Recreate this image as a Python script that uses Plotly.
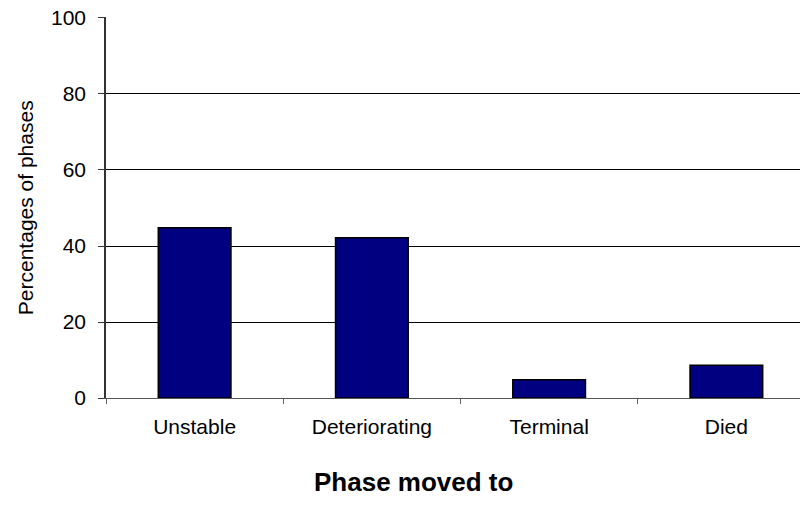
import plotly.graph_objects as go

categories = ["Unstable", "Deteriorating", "Terminal", "Died"]
values = [44.8, 42.2, 4.8, 8.6]
y_ticks = [0, 20, 40, 60, 80, 100]

FONT = "Liberation Sans, Arial, sans-serif"

fig = go.Figure()
fig.add_trace(go.Bar(
    x=categories, y=values,
    marker=dict(color="#000080", line=dict(color="black", width=1.5)),
    width=0.41,
))

# The page body has an 8px margin, so figure coords are offset by 8px.
fig.update_layout(
    width=808, height=515,
    margin=dict(l=98, r=1, t=9, b=125, autoexpand=False),
    paper_bgcolor="white", plot_bgcolor="white",
    font=dict(family=FONT, size=21, color="black"),
    showlegend=False,
    xaxis=dict(
        range=[-0.5, 3.5],
        tickson="boundaries",
        ticks="outside", ticklen=5, tickcolor="#666", tickwidth=1,
        showline=True, linecolor="#555", linewidth=1,
        showgrid=False,
        tickfont=dict(size=21),
        ticklabelstandoff=10,
        automargin=False,
    ),
    yaxis=dict(
        range=[0, 100.26],
        tickvals=y_ticks,
        ticks="outside", ticklen=6, tickcolor="#333", tickwidth=1,
        showline=True, linecolor="#333", linewidth=1.5,
        showgrid=True, gridcolor="black", gridwidth=1,
        tickfont=dict(size=21),
        ticklabelstandoff=8,
        ticklabeloverflow="allow",
        zeroline=False,
        automargin=False,
    ),
    annotations=[
        dict(text="<b>Phase moved to</b>", xref="paper", yref="paper",
             x=0.4344, y=-0.221, xanchor="center", yanchor="middle",
             showarrow=False, font=dict(family=FONT, size=26, color="black")),
        dict(text="Percentages of phases", xref="paper", yref="paper",
             x=-0.1133, y=0.5, xanchor="center", yanchor="middle",
             textangle=-90, showarrow=False,
             font=dict(family=FONT, size=21, color="black")),
    ],
)

fig.write_html("out.html")
